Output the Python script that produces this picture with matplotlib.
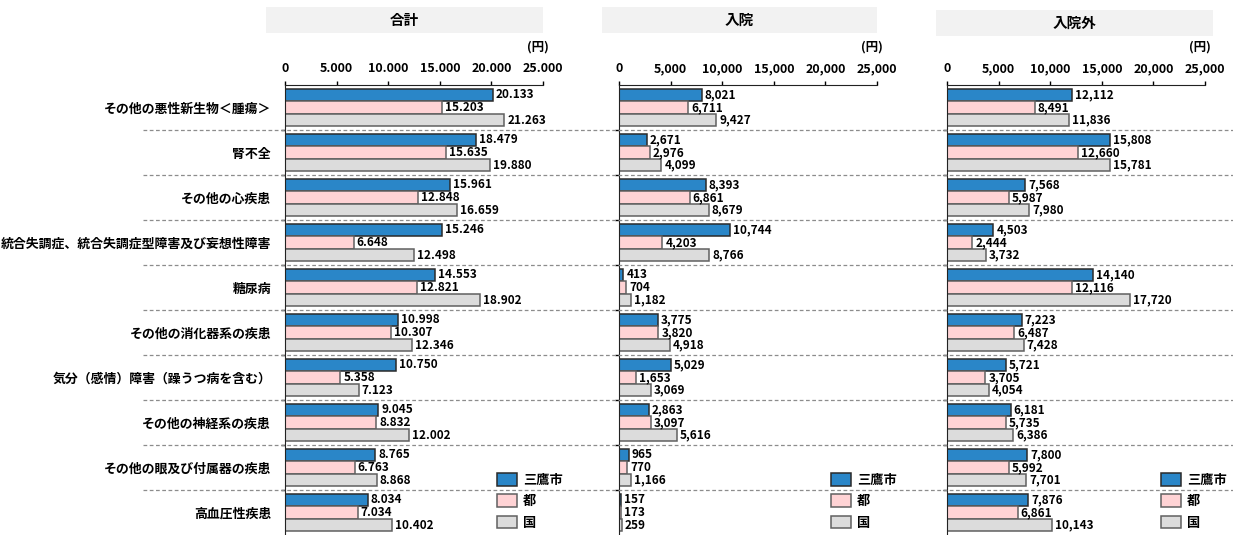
import numpy as np
import matplotlib
matplotlib.use('Agg')
import matplotlib.pyplot as plt
import matplotlib.transforms as mtransforms
from matplotlib.patches import Rectangle, Patch
from matplotlib.lines import Line2D

plt.rcParams['font.family'] = ['Noto Sans CJK JP', 'DejaVu Sans']
plt.rcParams['font.weight'] = 'bold'

categories = ['その他の悪性新生物＜腫瘍＞', '腎不全', 'その他の心疾患',
              '統合失調症、統合失調症型障害及び妄想性障害', '糖尿病',
              'その他の消化器系の疾患', '気分（感情）障害（躁うつ病を含む）',
              'その他の神経系の疾患', 'その他の眼及び付属器の疾患', '高血圧性疾患']
series_names = ['三鷹市', '都', '国']

# 合計
total_mitaka = [20133, 18479, 15961, 15246, 14553, 10998, 10750, 9045, 8765, 8034]
total_to = [15203, 15635, 12848, 6648, 12821, 10307, 5358, 8832, 6763, 7034]
total_kuni = [21263, 19880, 16659, 12498, 18902, 12346, 7123, 12002, 8868, 10402]
# 入院
inpat_mitaka = [8021, 2671, 8393, 10744, 413, 3775, 5029, 2863, 965, 157]
inpat_to = [6711, 2976, 6861, 4203, 704, 3820, 1653, 3097, 770, 173]
inpat_kuni = [9427, 4099, 8679, 8766, 1182, 4918, 3069, 5616, 1166, 259]
# 入院外
outpat_mitaka = [12112, 15808, 7568, 4503, 14140, 7223, 5721, 6181, 7800, 7876]
outpat_to = [8491, 12660, 5987, 2444, 12116, 6487, 3705, 5735, 5992, 6861]
outpat_kuni = [11836, 15781, 7980, 3732, 17720, 7428, 4054, 6386, 7701, 10143]

panel_titles = ['合計', '入院', '入院外']
xticks = [0, 5000, 10000, 15000, 20000, 25000]

colors = ['#2A86C8', '#FFD3D5', '#DCDCDC']
edges = ['#2a2a2a', '#606060', '#606060']

W, H = 1233, 535
fig = plt.figure(figsize=(W / 100, H / 100), dpi=100)

panels = [
    (panel_titles[0], [total_mitaka, total_to, total_kuni], '.', 285, (266, 7, 543, 33)),
    (panel_titles[1], [inpat_mitaka, inpat_to, inpat_kuni], ',', 619, (602, 7, 877, 33)),
    (panel_titles[2], [outpat_mitaka, outpat_to, outpat_kuni], ',', 947, (936, 10, 1213, 36)),
]

n = len(categories)
y = np.arange(n)
bh = 0.28
offsets = [-bh, 0, bh]
axes = []

for k, (title, series, sep, left_px, box) in enumerate(panels):
    ax = fig.add_axes([left_px / W, 0, 258 / W, (H - 85) / H])
    axes.append(ax)
    for s in range(3):
        vals = series[s]
        ax.barh(y + offsets[s], vals, height=bh, color=colors[s],
                edgecolor=edges[s], linewidth=1.1)
        for yi, v in zip(y, vals):
            ax.annotate(f'{v:,}'.replace(',', sep), xy=(v, yi + offsets[s]),
                        xytext=(3, 0), textcoords='offset pixels',
                        ha='left', va='center', fontsize=8.5, fontweight='bold')
    ax.set_xlim(0, 25000)
    ax.set_ylim(n - 0.5, -0.5)
    ax.xaxis.tick_top()
    ax.set_xticks(xticks)
    ax.set_xticklabels([f'{t:,}'.replace(',', sep) for t in xticks],
                       fontsize=9, fontweight='bold')
    ax.tick_params(axis='x', direction='out', length=3, width=1, pad=4)
    ax.set_yticks(np.arange(n - 1) + 0.5)
    ax.set_yticklabels([])
    ax.tick_params(axis='y', which='major', direction='out', length=3, width=1)
    if k == 0:
        ax.set_yticks(y, categories, minor=True)
        ax.tick_params(axis='y', which='minor', length=0, pad=10, labelsize=9.3)
        for lab in ax.get_yticklabels(minor=True):
            lab.set_fontweight('bold')
    for sp in ['right', 'bottom']:
        ax.spines[sp].set_visible(False)
    ax.spines['left'].set_color('#222222')
    ax.spines['top'].set_color('#222222')
    ax.patch.set_alpha(0)

    ax.annotate('(円)', xy=(1, 1), xycoords='axes fraction', xytext=(6, 38),
                textcoords='offset pixels', ha='right', va='center',
                fontsize=9, fontweight='bold')

    x0, y0, x1, y1 = box
    fig.patches.append(Rectangle((x0 / W, 1 - y1 / H), (x1 - x0) / W, (y1 - y0) / H,
                                 transform=fig.transFigure, facecolor='#F2F2F2',
                                 edgecolor='none', zorder=0))
    fig.text((x0 + x1) / 2 / W, 1 - (y0 + y1) / 2 / H, title, ha='center',
             va='center', fontsize=10.5, fontweight='bold')

    handles = [Patch(facecolor=colors[s], edgecolor=edges[s], linewidth=1.1)
               for s in range(3)]
    leg_x = [497, 831, 1161][k]
    ax.legend(handles, series_names, loc='upper left',
              bbox_to_anchor=(leg_x / W, 1 - 473 / H), bbox_transform=fig.transFigure,
              frameon=False, borderpad=0, borderaxespad=0, handlelength=1.5,
              handleheight=1.1, handletextpad=0.45, labelspacing=0.55,
              prop={'size': 9.5, 'weight': 'bold'})

# dashed separators between groups across the whole figure
trans = mtransforms.blended_transform_factory(fig.transFigure, axes[0].transData)
for b in np.arange(n - 1) + 0.5:
    fig.lines.append(Line2D([143 / W, 1.0], [b, b], transform=trans,
                            color='#8c8c8c', linestyle=(0, (3, 2)), linewidth=0.9,
                            zorder=0))

fig.savefig('out.png', dpi=100)
